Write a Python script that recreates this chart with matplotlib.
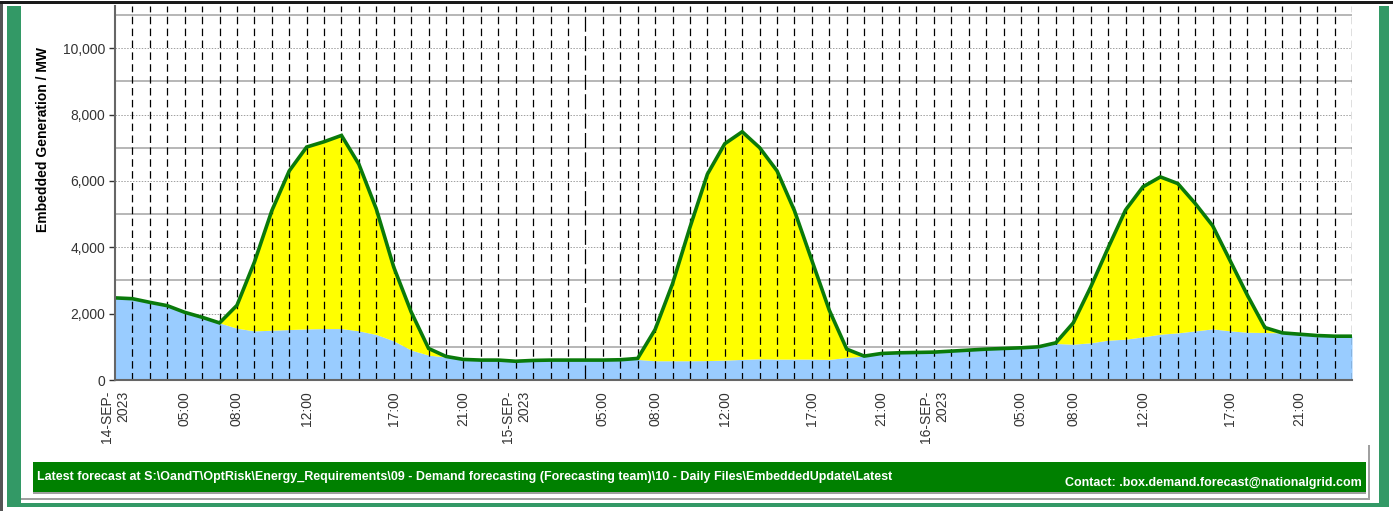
import matplotlib
matplotlib.use('Agg')
import matplotlib.pyplot as plt
from matplotlib.patches import Rectangle

plt.rcParams['font.family'] = ['Liberation Sans', 'DejaVu Sans']

# hora (1..72) desde 14-SEP-2023
horas = list(range(1, 73))

# Generacion embebida total (linea verde) MW
total = [2475, 2450, 2340, 2240, 2040, 1890, 1720, 2250, 3550, 5100,
         6300, 7020, 7180, 7370, 6500, 5150, 3400, 2050, 950, 710,
         620, 600, 600, 565, 590, 600, 600, 600, 600, 610,
         650, 1520, 2900, 4600, 6200, 7120, 7480, 7000, 6300, 5100,
         3600, 2100, 930, 720, 800, 820, 830, 840, 870, 900,
         930, 950, 970, 1000, 1120, 1720, 2800, 3980, 5120, 5820,
         6120, 5920, 5320, 4650, 3600, 2550, 1580, 1420, 1380, 1340,
         1320, 1320]

# Componente base (area azul) MW
base = [2475, 2450, 2340, 2240, 2040, 1890, 1720, 1560, 1480, 1500,
        1520, 1540, 1550, 1550, 1480, 1370, 1180, 900, 750, 690,
        620, 600, 600, 565, 590, 600, 600, 600, 600, 610,
        620, 580, 580, 580, 585, 600, 620, 640, 630, 630,
        630, 620, 680, 720, 800, 820, 830, 840, 870, 900,
        930, 950, 970, 1000, 1100, 1080, 1120, 1200, 1230, 1300,
        1380, 1420, 1480, 1540, 1480, 1440, 1430, 1420, 1380, 1340,
        1320, 1320]

pos_ticks = [1, 5, 8, 12, 17, 21, 24, 29, 32, 36, 41, 45, 48, 53, 56, 60, 65, 69]
etiquetas = ['14-SEP-\n2023', '05:00', '08:00', '12:00', '17:00', '21:00',
             '15-SEP-\n2023', '05:00', '08:00', '12:00', '17:00', '21:00',
             '16-SEP-\n2023', '05:00', '08:00', '12:00', '17:00', '21:00']

y_ticks = [0, 2000, 4000, 6000, 8000, 10000]

banner_izq = r'Latest forecast at S:\OandT\OptRisk\Energy_Requirements\09 - Demand forecasting (Forecasting team)\10 - Daily Files\EmbeddedUpdate\Latest'
banner_der = 'Contact: .box.demand.forecast@nationalgrid.com'

W, H = 1393, 511
fig = plt.figure(figsize=(W/100, H/100), dpi=100)
fig.patch.set_facecolor('white')

def rect(x0, y0, x1, y1, color, z=0):
    # coordenadas en pixeles de imagen (y hacia abajo)
    fig.add_artist(Rectangle((x0/W, 1-y1/H), (x1-x0)/W, (y1-y0)/H,
                             transform=fig.transFigure, facecolor=color,
                             edgecolor='none', zorder=z))

# marco exterior
rect(0, 1, W, 4, '#1a1a1a')
rect(0, 4, 3, H, '#555555')
rect(7, 6, 21, 507, '#339966')
rect(1379, 6, 1389, 507, '#339966')
rect(7, 503, 1389, 507, '#339966')
rect(1368, 445, 1370, 500, '#a0a0a0')
rect(21, 498, 1370, 500, '#a0a0a0')

# banner inferior
rect(33, 462, 1366, 492, '#008000', z=1)
rect(33, 492, 1366, 494, '#a0a0a0', z=1)
fig.text(37/W, 1-477/H, banner_izq, color='white', fontsize=9, fontweight='bold',
         ha='left', va='center', zorder=2)
fig.text(1362/W, 1-483/H, banner_der, color='white', fontsize=9, fontweight='bold',
         ha='right', va='center', zorder=2)

ax = fig.add_axes([115/W, 1-380/H, (1352-115)/W, (380-6)/H])
ax.set_facecolor('white')

ax.fill_between(horas, 0, base, color='#99ccff', linewidth=0, zorder=2)
ax.fill_between(horas, base, total, color='#ffff00', linewidth=0, zorder=2)
ax.plot(horas, total, color='#0a7a0a', linewidth=2.6, zorder=4, solid_joinstyle='miter')

# rejilla horizontal: miles pares punteado, impares continuo
for v in range(1000, 12000, 1000):
    if v % 2000 == 0:
        ax.axhline(v, color='#a0a0a0', linewidth=0.7, linestyle=(0, (1.5, 1.5)), zorder=1)
    else:
        ax.axhline(v, color='#aaaaaa', linewidth=1.2, zorder=1)

# rejilla vertical cada hora
for h in horas[1:]:
    if h == 28:
        ax.axvline(h, color='black', linewidth=0.9, linestyle=(0, (12, 3.5)), zorder=3)
    else:
        ax.axvline(h, color='black', linewidth=0.9, linestyle=(0, (6, 3.5)), zorder=3)

ax.set_xlim(1, 72)
ax.set_ylim(0, 11270)
ax.set_yticks(y_ticks)
ax.set_yticklabels(['{:,}'.format(v) for v in y_ticks])
ax.set_xticks(pos_ticks)
ax.set_xticklabels(etiquetas, rotation=90)
for lab in ax.get_xticklabels():
    lab.set_multialignment('right')
ax.tick_params(axis='y', labelsize=10, colors='#333333', length=4, width=1, pad=3)
ax.tick_params(axis='x', labelsize=10, colors='#333333', length=0, pad=8)

for lado in ['top', 'right']:
    ax.spines[lado].set_visible(False)
for lado in ['left', 'bottom']:
    ax.spines[lado].set_color('#666666')
    ax.spines[lado].set_linewidth(1.5)
    ax.spines[lado].set_zorder(5)

fig.text(43/W, 1-140/H, 'Embedded Generation / MW', rotation=90, fontsize=10,
         fontweight='bold', ha='center', va='center')

plt.savefig('out.png', dpi=100)
